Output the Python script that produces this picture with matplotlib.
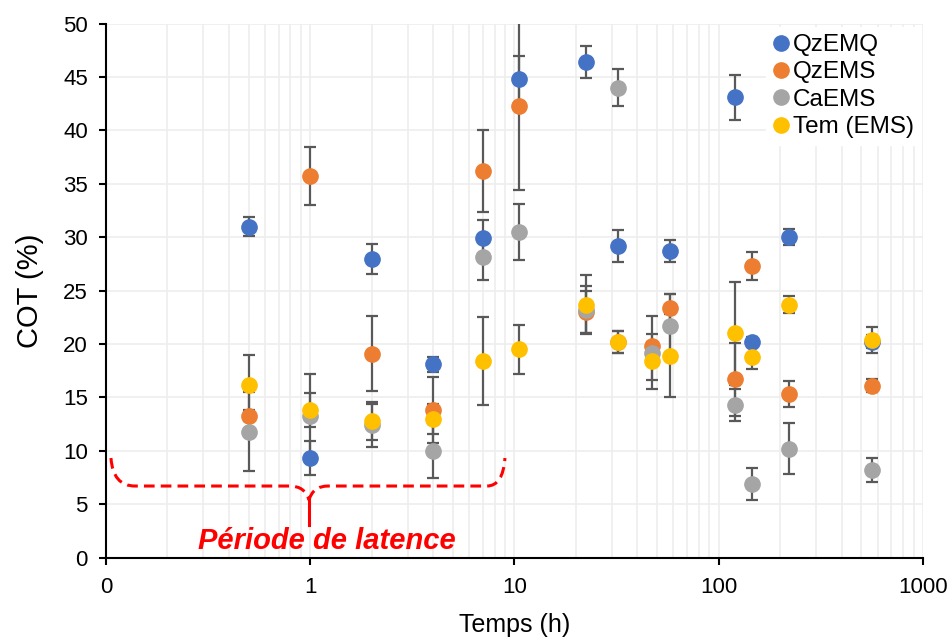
import numpy as np
import matplotlib.pyplot as plt
from matplotlib.path import Path
from matplotlib.patches import PathPatch
from matplotlib.lines import Line2D
from matplotlib.ticker import FixedLocator, LogLocator, NullFormatter

plt.rcParams['font.family'] = ['Liberation Sans', 'DejaVu Sans']

temps = [0.5, 1, 2, 4, 7, 10.5, 22.5, 32, 47, 58, 120, 145, 221, 562]

qzemq = [31.0, 9.3, 28.0, 18.1, 29.9, 44.8, 46.4, 29.2, np.nan, 28.7, 43.1, 20.2, 30.0, 20.2]
qzemq_err = [0.9, 1.6, 1.4, 0.7, 1.7, 2.2, 1.5, 1.5, np.nan, 1.0, 2.1, 0.5, 0.75, 0.6]

qzems = [13.3, 35.7, 19.1, 13.8, 36.2, 42.3, 23.0, 20.2, 19.8, 23.4, 16.7, 27.3, 15.3, 16.1]
qzems_err = [0.5, 2.7, 3.5, 3.1, 3.8, 7.9, 2.0, 1.0, 1.1, 1.3, 3.4, 1.3, 1.2, 0.6]

caems = [11.8, 13.3, 12.4, 10.0, 28.1, 30.5, 23.2, 44.0, 19.2, 21.7, 14.3, 6.9, 10.2, 8.2]
caems_err = [3.7, 3.9, 2.0, 2.5, 2.1, 2.6, 2.2, 1.7, 3.4, 3.0, 1.5, 1.5, 2.4, 1.1]

tem = [16.2, 13.8, 12.8, 13.0, 18.4, 19.5, 23.7, 20.2, 18.4, 18.9, 21.0, 18.8, 23.7, 20.4]
tem_err = [2.8, 1.6, 1.8, 1.4, 4.1, 2.3, 2.8, 1.0, 1.8, 3.9, 4.8, 1.1, 0.8, 1.2]

series = [
    ('QzEMQ', qzemq, qzemq_err, '#4472C4'),
    ('QzEMS', qzems, qzems_err, '#ED7D31'),
    ('CaEMS', caems, caems_err, '#A5A5A5'),
    ('Tem (EMS)', tem, tem_err, '#FFC000'),
]

fig = plt.figure(figsize=(9.52, 6.39), dpi=100)
ax = fig.add_axes([0.1113, 0.1272, 0.8582, 0.836])

poignees = []
for nom, y, e, c in series:
    ax.errorbar(temps, y, yerr=e, fmt='o', color=c, ms=11, mec=c,
                ecolor='#595959', elinewidth=1.6, capsize=4.5, capthick=1.6,
                zorder=3)
    poignees.append(Line2D([], [], ls='none', marker='o', ms=11, color=c, label=nom))

ax.set_xscale('log')
ax.set_xlim(0.1, 1000)
ax.set_ylim(0, 50)
ax.xaxis.set_major_locator(FixedLocator([0.1, 1, 10, 100, 1000]))
ax.set_xticklabels(['0', '1', '10', '100', '1000'])
ax.xaxis.set_minor_locator(LogLocator(base=10, subs=np.arange(2, 10)))
ax.xaxis.set_minor_formatter(NullFormatter())
ax.set_yticks(np.arange(0, 51, 5))

ax.grid(True, which='both', axis='x', color='#EDEDED', lw=1.2, zorder=0)
ax.grid(True, which='major', axis='y', color='#EDEDED', lw=1.2, zorder=0)
ax.set_axisbelow(True)

for s in ['top', 'right']:
    ax.spines[s].set_visible(False)
for s in ['left', 'bottom']:
    ax.spines[s].set_linewidth(1.5)
ax.tick_params(axis='both', which='major', labelsize=16, length=5, width=1.5, direction='out')
ax.tick_params(axis='x', which='minor', length=0)
ax.tick_params(axis='x', pad=9)
ax.tick_params(axis='y', pad=8)

ax.set_xlabel('Temps (h)', fontsize=18, labelpad=11)
ax.set_ylabel('COT (%)', fontsize=21, labelpad=14)

ax.legend(handles=poignees, loc='upper left', bbox_to_anchor=(0.8078, 0.994),
          borderaxespad=0, fontsize=17.5, frameon=True, framealpha=1, edgecolor='white',
          fancybox=False, handletextpad=0.2, handlelength=0.6, labelspacing=0.22,
          borderpad=0.3)

# accolade "Période de latence" (coordonnées en pixels convertis en fraction d'axe)
def px(x, y):
    return ((x - 106) / 817, (557.7 - y) / 534.3)

gauche = [px(111, 458), px(113, 486), px(135, 486), px(290, 486),
          px(305, 486), px(309, 500)]
codes = [Path.MOVETO, Path.CURVE3, Path.CURVE3, Path.LINETO,
         Path.CURVE3, Path.CURVE3]
droite = [px(309, 500), px(313, 486), px(328, 486), px(487, 486),
          px(503, 486), px(505, 458)]
for verts in (gauche, droite):
    ax.add_patch(PathPatch(Path(verts, codes), transform=ax.transAxes,
                           fill=False, edgecolor='#FF0000', lw=2.2,
                           linestyle=(0, (3.5, 2)), clip_on=False, zorder=4))
x0, y0 = px(309, 498)
x1, y1 = px(309, 525)
ax.plot([x0, x1], [y0, y1], transform=ax.transAxes, color='#FF0000', lw=2.2, zorder=4)

ax.text(*px(327, 541), 'Période de latence', transform=ax.transAxes, color='#FF0000',
        fontsize=21, fontweight='bold', fontstyle='italic', ha='center', va='center')

fig.savefig('out.png', dpi=100)
